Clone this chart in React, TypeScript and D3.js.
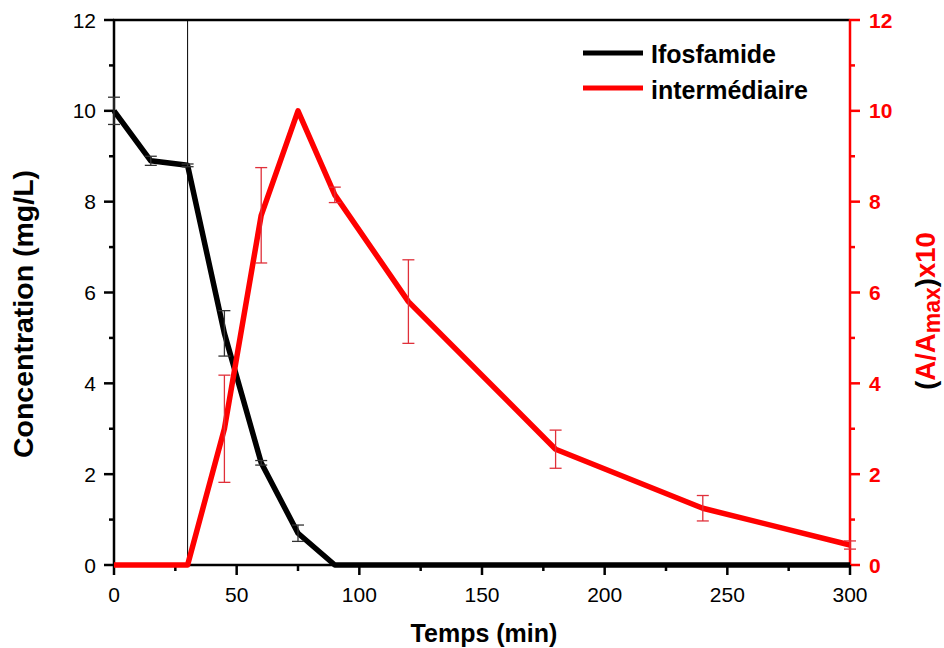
import React from "react";
import * as d3 from "d3";

const times = [0, 15, 30, 45, 60, 75, 90, 120, 180, 240, 300];
const ifosfamide = [10, 8.9, 8.8, 5.1, 2.25, 0.7, 0, 0, 0, 0, 0];
const ifosfamideErr = [0.3, 0.1, 0.03, 0.5, 0.05, 0.18, 0, 0, 0, 0, 0];
const intermediaire = [0, 0, 0, 3.0, 7.7, 10, 8.15, 5.8, 2.55, 1.25, 0.44];
const intermediaireErr = [0, 0, 0, 1.18, 1.05, 0, 0.17, 0.92, 0.42, 0.28, 0.09];
const xTicks = [0, 50, 100, 150, 200, 250, 300];
const xMinor = [25, 75, 125, 175, 225, 275];
const yTicks = [0, 2, 4, 6, 8, 10, 12];
const yMinor = [1, 3, 5, 7, 9, 11];
const markerTime = 30;

const W = 944;
const H = 648;
const FONT = "'Liberation Sans', Arial, Helvetica, sans-serif";
const RED = "#ff0000";

export default function App() {
  const x = d3.scaleLinear().domain([0, 300]).range([114, 850]);
  const y = d3.scaleLinear().domain([0, 12]).range([565, 20]);
  const line = d3
    .line<[number, number]>()
    .x((d) => x(d[0]))
    .y((d) => y(d[1]));
  const blackData = times.map((t, i) => [t, ifosfamide[i]] as [number, number]);
  const redData = times.map((t, i) => [t, intermediaire[i]] as [number, number]);

  const errBars = (vals: number[], errs: number[], color: string, key: string) =>
    times.map((t, i) => {
      if (!errs[i]) return null;
      const cx = x(t);
      const y1 = y(vals[i] + errs[i]);
      const y2 = y(vals[i] - errs[i]);
      return (
        <g key={key + i} stroke={color} strokeWidth={1.3}>
          <line x1={cx} x2={cx} y1={y1} y2={y2} />
          <line x1={cx - 6} x2={cx + 6} y1={y1} y2={y1} />
          <line x1={cx - 6} x2={cx + 6} y1={y2} y2={y2} />
        </g>
      );
    });

  return (
    <svg
      width={W}
      height={H}
      style={{ position: "absolute", left: 0, top: 0, background: "#fff" }}
      fontFamily={FONT}
    >
      <rect width={W} height={H} fill="#fff" />
      {/* vertical marker line */}
      <line x1={x(markerTime)} x2={x(markerTime)} y1={y(12)} y2={y(0)} stroke="#000" strokeWidth={1} />

      {/* top border */}
      <line x1={x(0) - 1} x2={x(300)} y1={y(12)} y2={y(12)} stroke="#000" strokeWidth={2.5} />

      {/* left axis */}
      <line x1={x(0)} x2={x(0)} y1={y(12) - 1} y2={y(0) + 1} stroke="#000" strokeWidth={2.5} />
      {yTicks.map((v) => (
        <g key={"yl" + v}>
          <line x1={x(0) - 10} x2={x(0)} y1={y(v)} y2={y(v)} stroke="#000" strokeWidth={2.5} />
          <text x={96} y={y(v) + 7.5} fontSize={21} textAnchor="end" fill="#000">
            {v}
          </text>
        </g>
      ))}
      {yMinor.map((v) => (
        <line key={"ylm" + v} x1={x(0) - 5} x2={x(0)} y1={y(v)} y2={y(v)} stroke="#000" strokeWidth={2.5} />
      ))}

      {/* right axis */}
      <line x1={x(300)} x2={x(300)} y1={y(12) - 1} y2={y(0) + 1} stroke={RED} strokeWidth={2.5} />
      {yTicks.map((v) => (
        <g key={"yr" + v}>
          <line x1={x(300)} x2={x(300) + 10} y1={y(v)} y2={y(v)} stroke={RED} strokeWidth={2.5} />
          <text x={869} y={y(v) + 7.5} fontSize={21} fontWeight="bold" textAnchor="start" fill={RED}>
            {v}
          </text>
        </g>
      ))}
      {yMinor.map((v) => (
        <line key={"yrm" + v} x1={x(300)} x2={x(300) + 5} y1={y(v)} y2={y(v)} stroke={RED} strokeWidth={2.5} />
      ))}

      {/* bottom axis */}
      <line x1={x(0) - 1} x2={x(300)} y1={y(0)} y2={y(0)} stroke="#000" strokeWidth={2.5} />
      {xTicks.map((v) => (
        <g key={"x" + v}>
          <line x1={x(v)} x2={x(v)} y1={y(0)} y2={y(0) + 10} stroke="#000" strokeWidth={2.5} />
          <text x={x(v)} y={602} fontSize={21} textAnchor="middle" fill="#000">
            {v}
          </text>
        </g>
      ))}
      {xMinor.map((v) => (
        <line key={"xm" + v} x1={x(v)} x2={x(v)} y1={y(0)} y2={y(0) + 6} stroke="#000" strokeWidth={2.5} />
      ))}

      {/* series */}
      <path d={line(blackData) || ""} fill="none" stroke="#000" strokeWidth={5.5} strokeLinejoin="round" />
      {errBars(ifosfamide, ifosfamideErr, "#333", "eb")}
      <path d={line(redData) || ""} fill="none" stroke={RED} strokeWidth={5.5} strokeLinejoin="round" />
      {errBars(intermediaire, intermediaireErr, "#e0303a", "er")}

      {/* axis titles */}
      <text
        transform={`translate(33,314) rotate(-90)`}
        fontSize={28.5}
        fontWeight="bold"
        textAnchor="middle"
        fill="#000"
      >
        Concentration (mg/L)
      </text>
      <text x={484} y={642} fontSize={25} fontWeight="bold" textAnchor="middle" fill="#000">
        Temps (min)
      </text>
      <text
        transform={`translate(935,311) rotate(-90)`}
        fontSize={27.5}
        fontWeight="bold"
        textAnchor="middle"
        fill={RED}
      >
        <tspan fill="#000">(</tspan>
        <tspan>A/A</tspan>
        <tspan fontSize={23} dy={5}>max</tspan>
        <tspan fill="#000" dy={-5}>)</tspan>
        <tspan>x10</tspan>
      </text>

      {/* legend */}
      <line x1={583} x2={643} y1={53} y2={53} stroke="#000" strokeWidth={5} />
      <text x={651} y={63} fontSize={25} fontWeight="bold" fill="#000">
        Ifosfamide
      </text>
      <line x1={583} x2={643} y1={88} y2={88} stroke={RED} strokeWidth={5} />
      <text x={651} y={99} fontSize={25} fontWeight="bold" fill="#000">
        intermédiaire
      </text>
    </svg>
  );
}
